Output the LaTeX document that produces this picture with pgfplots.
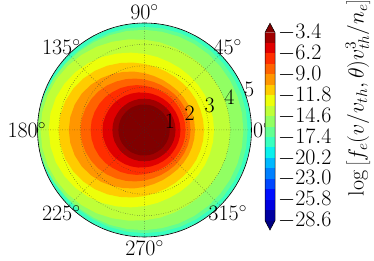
\RequirePackage{fix-cm}
\documentclass[border=0pt]{standalone}
\usepackage{pgfplots}
\pgfplotsset{compat=1.18}
\usepgfplotslibrary{polar}
\usepackage{pgfplotstable}

\definecolor{cover}{rgb}{0.5,0,0}
\definecolor{cunder}{rgb}{0,0,0.5}
\definecolor{c0}{rgb}{0,0,0.63}
\definecolor{c1}{rgb}{0,0,0.88}
\definecolor{c2}{rgb}{0,0.06,1}
\definecolor{c3}{rgb}{0,0.28,1}
\definecolor{c4}{rgb}{0,0.5,1}
\definecolor{c5}{rgb}{0,0.72,1}
\definecolor{c6}{rgb}{0.04,0.94,0.93}
\definecolor{c7}{rgb}{0.22,1,0.75}
\definecolor{c8}{rgb}{0.39,1,0.57}
\definecolor{c9}{rgb}{0.57,1,0.39}
\definecolor{c10}{rgb}{0.75,1,0.22}
\definecolor{c11}{rgb}{0.93,1,0.04}
\definecolor{c12}{rgb}{1,0.8,0}
\definecolor{c13}{rgb}{1,0.59,0}
\definecolor{c14}{rgb}{1,0.39,0}
\definecolor{c15}{rgb}{1,0.18,0}
\definecolor{c16}{rgb}{0.88,0,0}
\definecolor{c17}{rgb}{0.63,0,0}

% contour boundary radii (v/v_th) vs angle (deg); levels -17.4 (r11) ... -3.4 (r1)
\pgfplotstableread{
t   r0  r11  r10  r9   r8   r7   r6   r5   r4   r3   r2   r1
0   5.0 4.82 4.62 4.01 3.25 2.78 2.36 2.15 1.92 1.68 1.45 1.18
10  5.0 4.82 4.62 4.01 3.25 2.78 2.36 2.15 1.92 1.68 1.45 1.18
20  5.0 4.82 4.62 4.01 3.25 2.78 2.36 2.15 1.92 1.68 1.45 1.18
30  5.0 4.82 4.62 4.01 3.26 2.79 2.37 2.15 1.92 1.68 1.45 1.18
40  5.0 4.82 4.62 4.02 3.27 2.80 2.38 2.16 1.93 1.68 1.45 1.18
50  5.0 4.82 4.63 4.04 3.29 2.82 2.40 2.18 1.94 1.69 1.45 1.18
60  5.0 4.82 4.64 4.06 3.33 2.86 2.43 2.20 1.96 1.70 1.45 1.18
70  5.0 4.82 4.65 4.10 3.38 2.91 2.49 2.24 1.98 1.71 1.46 1.19
80  5.0 4.82 4.66 4.16 3.46 2.99 2.56 2.29 2.02 1.73 1.46 1.19
90  5.0 4.82 4.68 4.22 3.56 3.09 2.66 2.36 2.07 1.75 1.46 1.19
100 5.0 4.82 4.70 4.30 3.67 3.20 2.77 2.44 2.13 1.78 1.47 1.20
110 5.0 4.82 4.72 4.39 3.80 3.33 2.89 2.53 2.19 1.81 1.47 1.20
120 5.0 4.82 4.74 4.49 3.94 3.47 3.02 2.62 2.26 1.84 1.48 1.21
130 5.0 4.83 4.77 4.58 4.08 3.61 3.16 2.72 2.32 1.87 1.48 1.21
140 5.0 4.85 4.81 4.67 4.21 3.74 3.28 2.81 2.39 1.90 1.49 1.21
150 5.0 4.88 4.87 4.75 4.32 3.85 3.39 2.88 2.44 1.92 1.49 1.22
160 5.0 4.93 4.94 4.81 4.41 3.94 3.47 2.94 2.48 1.94 1.50 1.22
170 5.0 4.98 5.00 4.85 4.46 3.99 3.52 2.98 2.51 1.96 1.50 1.22
180 5.0 5.00 5.00 4.86 4.48 4.01 3.54 2.99 2.52 1.96 1.50 1.22
190 5.0 4.98 5.00 4.85 4.46 3.99 3.52 2.98 2.51 1.96 1.50 1.22
200 5.0 4.93 4.94 4.81 4.41 3.94 3.47 2.94 2.48 1.94 1.50 1.22
210 5.0 4.88 4.87 4.75 4.32 3.85 3.39 2.88 2.44 1.92 1.49 1.22
220 5.0 4.85 4.81 4.67 4.21 3.74 3.28 2.81 2.39 1.90 1.49 1.21
230 5.0 4.83 4.77 4.58 4.08 3.61 3.16 2.72 2.32 1.87 1.48 1.21
240 5.0 4.82 4.74 4.49 3.94 3.47 3.02 2.62 2.26 1.84 1.48 1.21
250 5.0 4.82 4.72 4.39 3.80 3.33 2.89 2.53 2.19 1.81 1.47 1.20
260 5.0 4.82 4.70 4.30 3.67 3.20 2.77 2.44 2.13 1.78 1.47 1.20
270 5.0 4.82 4.68 4.22 3.56 3.09 2.66 2.36 2.07 1.75 1.46 1.19
280 5.0 4.82 4.66 4.16 3.46 2.99 2.56 2.29 2.02 1.73 1.46 1.19
290 5.0 4.82 4.65 4.10 3.38 2.91 2.49 2.24 1.98 1.71 1.46 1.19
300 5.0 4.82 4.64 4.06 3.33 2.86 2.43 2.20 1.96 1.70 1.45 1.18
310 5.0 4.82 4.63 4.04 3.29 2.82 2.40 2.18 1.94 1.69 1.45 1.18
320 5.0 4.82 4.62 4.02 3.27 2.80 2.38 2.16 1.93 1.68 1.45 1.18
330 5.0 4.82 4.62 4.01 3.26 2.79 2.37 2.15 1.92 1.68 1.45 1.18
340 5.0 4.82 4.62 4.01 3.25 2.78 2.36 2.15 1.92 1.68 1.45 1.18
350 5.0 4.82 4.62 4.01 3.25 2.78 2.36 2.15 1.92 1.68 1.45 1.18
360 5.0 4.82 4.62 4.01 3.25 2.78 2.36 2.15 1.92 1.68 1.45 1.18
}\rings

\newcommand{\lbl}{\fontsize{22}{26}\selectfont}

\begin{document}
\begin{tikzpicture}
\useasboundingbox (0,0) rectangle (374pt,261pt);
\begin{polaraxis}[
  at={(144.5pt,131pt)}, anchor=center,
  scale only axis, width=214pt, height=214pt,
  ymin=0, ymax=5,
  xtick={0,45,...,315}, ytick={1,2,3,4,5},
  xticklabel style={opacity=0}, yticklabel style={opacity=0},
  major tick length=0pt,
  grid=major,
  major grid style={black!80, dotted, line width=0.5pt},
  x axis line style={black, line width=0.6pt},
  y axis line style={draw=none},
  axis on top,
  clip=false,
]
\addplot[fill=c7,  draw=none] table[x=t,y=r0]  {\rings};
\addplot[fill=c8,  draw=none] table[x=t,y=r11] {\rings};
\addplot[fill=c9,  draw=none] table[x=t,y=r10] {\rings};
\addplot[fill=c10, draw=none] table[x=t,y=r9]  {\rings};
\addplot[fill=c11, draw=none] table[x=t,y=r8]  {\rings};
\addplot[fill=c12, draw=none] table[x=t,y=r7]  {\rings};
\addplot[fill=c13, draw=none] table[x=t,y=r6]  {\rings};
\addplot[fill=c14, draw=none] table[x=t,y=r5]  {\rings};
\addplot[fill=c15, draw=none] table[x=t,y=r4]  {\rings};
\addplot[fill=c16, draw=none] table[x=t,y=r3]  {\rings};
\addplot[fill=c17, draw=none] table[x=t,y=r2]  {\rings};
\addplot[fill=cover, draw=none] table[x=t,y=r1] {\rings};
% angle labels
\addplot[draw=none, mark=none, nodes near coords, point meta=explicit symbolic,
  every node near coord/.append style={anchor=center, font=\lbl, inner sep=0pt}]
  coordinates {(0,5.5) [$0^\circ$] (45,5.5) [$45^\circ$] (90,5.5) [$90^\circ$]
   (135,5.5) [$135^\circ$] (180,5.5) [$180^\circ$] (225,5.5) [$225^\circ$]
   (270,5.5) [$270^\circ$] (315,5.5) [$315^\circ$]};
% radial labels
\addplot[draw=none, mark=none, nodes near coords, point meta=explicit symbolic,
  every node near coord/.append style={anchor=west, font=\lbl, inner sep=0.5pt}]
  coordinates {(22.5,1) [$1$] (22.5,2) [$2$] (22.5,3) [$3$] (22.5,4) [$4$] (22.5,5) [$5$]};
\end{polaraxis}

\begin{axis}[
  at={(265pt,31pt)}, anchor=south west,
  scale only axis, width=10pt, height=206.8pt,
  xmin=0, xmax=1, ymin=-29.86, ymax=-2.14,
  axis line style={draw=none},
  xtick=\empty,
  ytick={-28.6,-25.8,-23.0,-20.2,-17.4,-14.6,-11.8,-9.0,-6.2,-3.4},
  yticklabel pos=right,
  yticklabel style={/pgf/number format/fixed, /pgf/number format/precision=1,
    /pgf/number format/fixed zerofill, font=\lbl, inner sep=0pt, xshift=3pt},
  major tick length=0pt,
  clip=false,
  ylabel={$\log\left[f_e(v/v_{th},\theta)v_{th}^3/n_e\right]$},
  ylabel style={font=\lbl, at={(rel axis cs:1,0.5)}, anchor=center, yshift=-83pt, xshift=29pt},
]
\addplot[fill=c0,  draw=none] coordinates {(0,-28.6)(1,-28.6)(1,-27.2)(0,-27.2)};
\addplot[fill=c1,  draw=none] coordinates {(0,-27.2)(1,-27.2)(1,-25.8)(0,-25.8)};
\addplot[fill=c2,  draw=none] coordinates {(0,-25.8)(1,-25.8)(1,-24.4)(0,-24.4)};
\addplot[fill=c3,  draw=none] coordinates {(0,-24.4)(1,-24.4)(1,-23.0)(0,-23.0)};
\addplot[fill=c4,  draw=none] coordinates {(0,-23.0)(1,-23.0)(1,-21.6)(0,-21.6)};
\addplot[fill=c5,  draw=none] coordinates {(0,-21.6)(1,-21.6)(1,-20.2)(0,-20.2)};
\addplot[fill=c6,  draw=none] coordinates {(0,-20.2)(1,-20.2)(1,-18.8)(0,-18.8)};
\addplot[fill=c7,  draw=none] coordinates {(0,-18.8)(1,-18.8)(1,-17.4)(0,-17.4)};
\addplot[fill=c8,  draw=none] coordinates {(0,-17.4)(1,-17.4)(1,-16.0)(0,-16.0)};
\addplot[fill=c9,  draw=none] coordinates {(0,-16.0)(1,-16.0)(1,-14.6)(0,-14.6)};
\addplot[fill=c10, draw=none] coordinates {(0,-14.6)(1,-14.6)(1,-13.2)(0,-13.2)};
\addplot[fill=c11, draw=none] coordinates {(0,-13.2)(1,-13.2)(1,-11.8)(0,-11.8)};
\addplot[fill=c12, draw=none] coordinates {(0,-11.8)(1,-11.8)(1,-10.4)(0,-10.4)};
\addplot[fill=c13, draw=none] coordinates {(0,-10.4)(1,-10.4)(1,-9.0)(0,-9.0)};
\addplot[fill=c14, draw=none] coordinates {(0,-9.0)(1,-9.0)(1,-7.6)(0,-7.6)};
\addplot[fill=c15, draw=none] coordinates {(0,-7.6)(1,-7.6)(1,-6.2)(0,-6.2)};
\addplot[fill=c16, draw=none] coordinates {(0,-6.2)(1,-6.2)(1,-4.8)(0,-4.8)};
\addplot[fill=c17, draw=none] coordinates {(0,-4.8)(1,-4.8)(1,-3.4)(0,-3.4)};
\addplot[fill=cunder, draw=none] coordinates {(0,-28.6)(1,-28.6)(0.5,-29.86)};
\addplot[fill=cover,  draw=none] coordinates {(0,-3.4)(1,-3.4)(0.5,-2.14)};
\addplot[black, line width=0.5pt, mark=none] coordinates {(0,-3.4)(0.5,-2.14)(1,-3.4)(1,-28.6)(0.5,-29.86)(0,-28.6)(0,-3.4)};
\end{axis}
\end{tikzpicture}
\end{document}
